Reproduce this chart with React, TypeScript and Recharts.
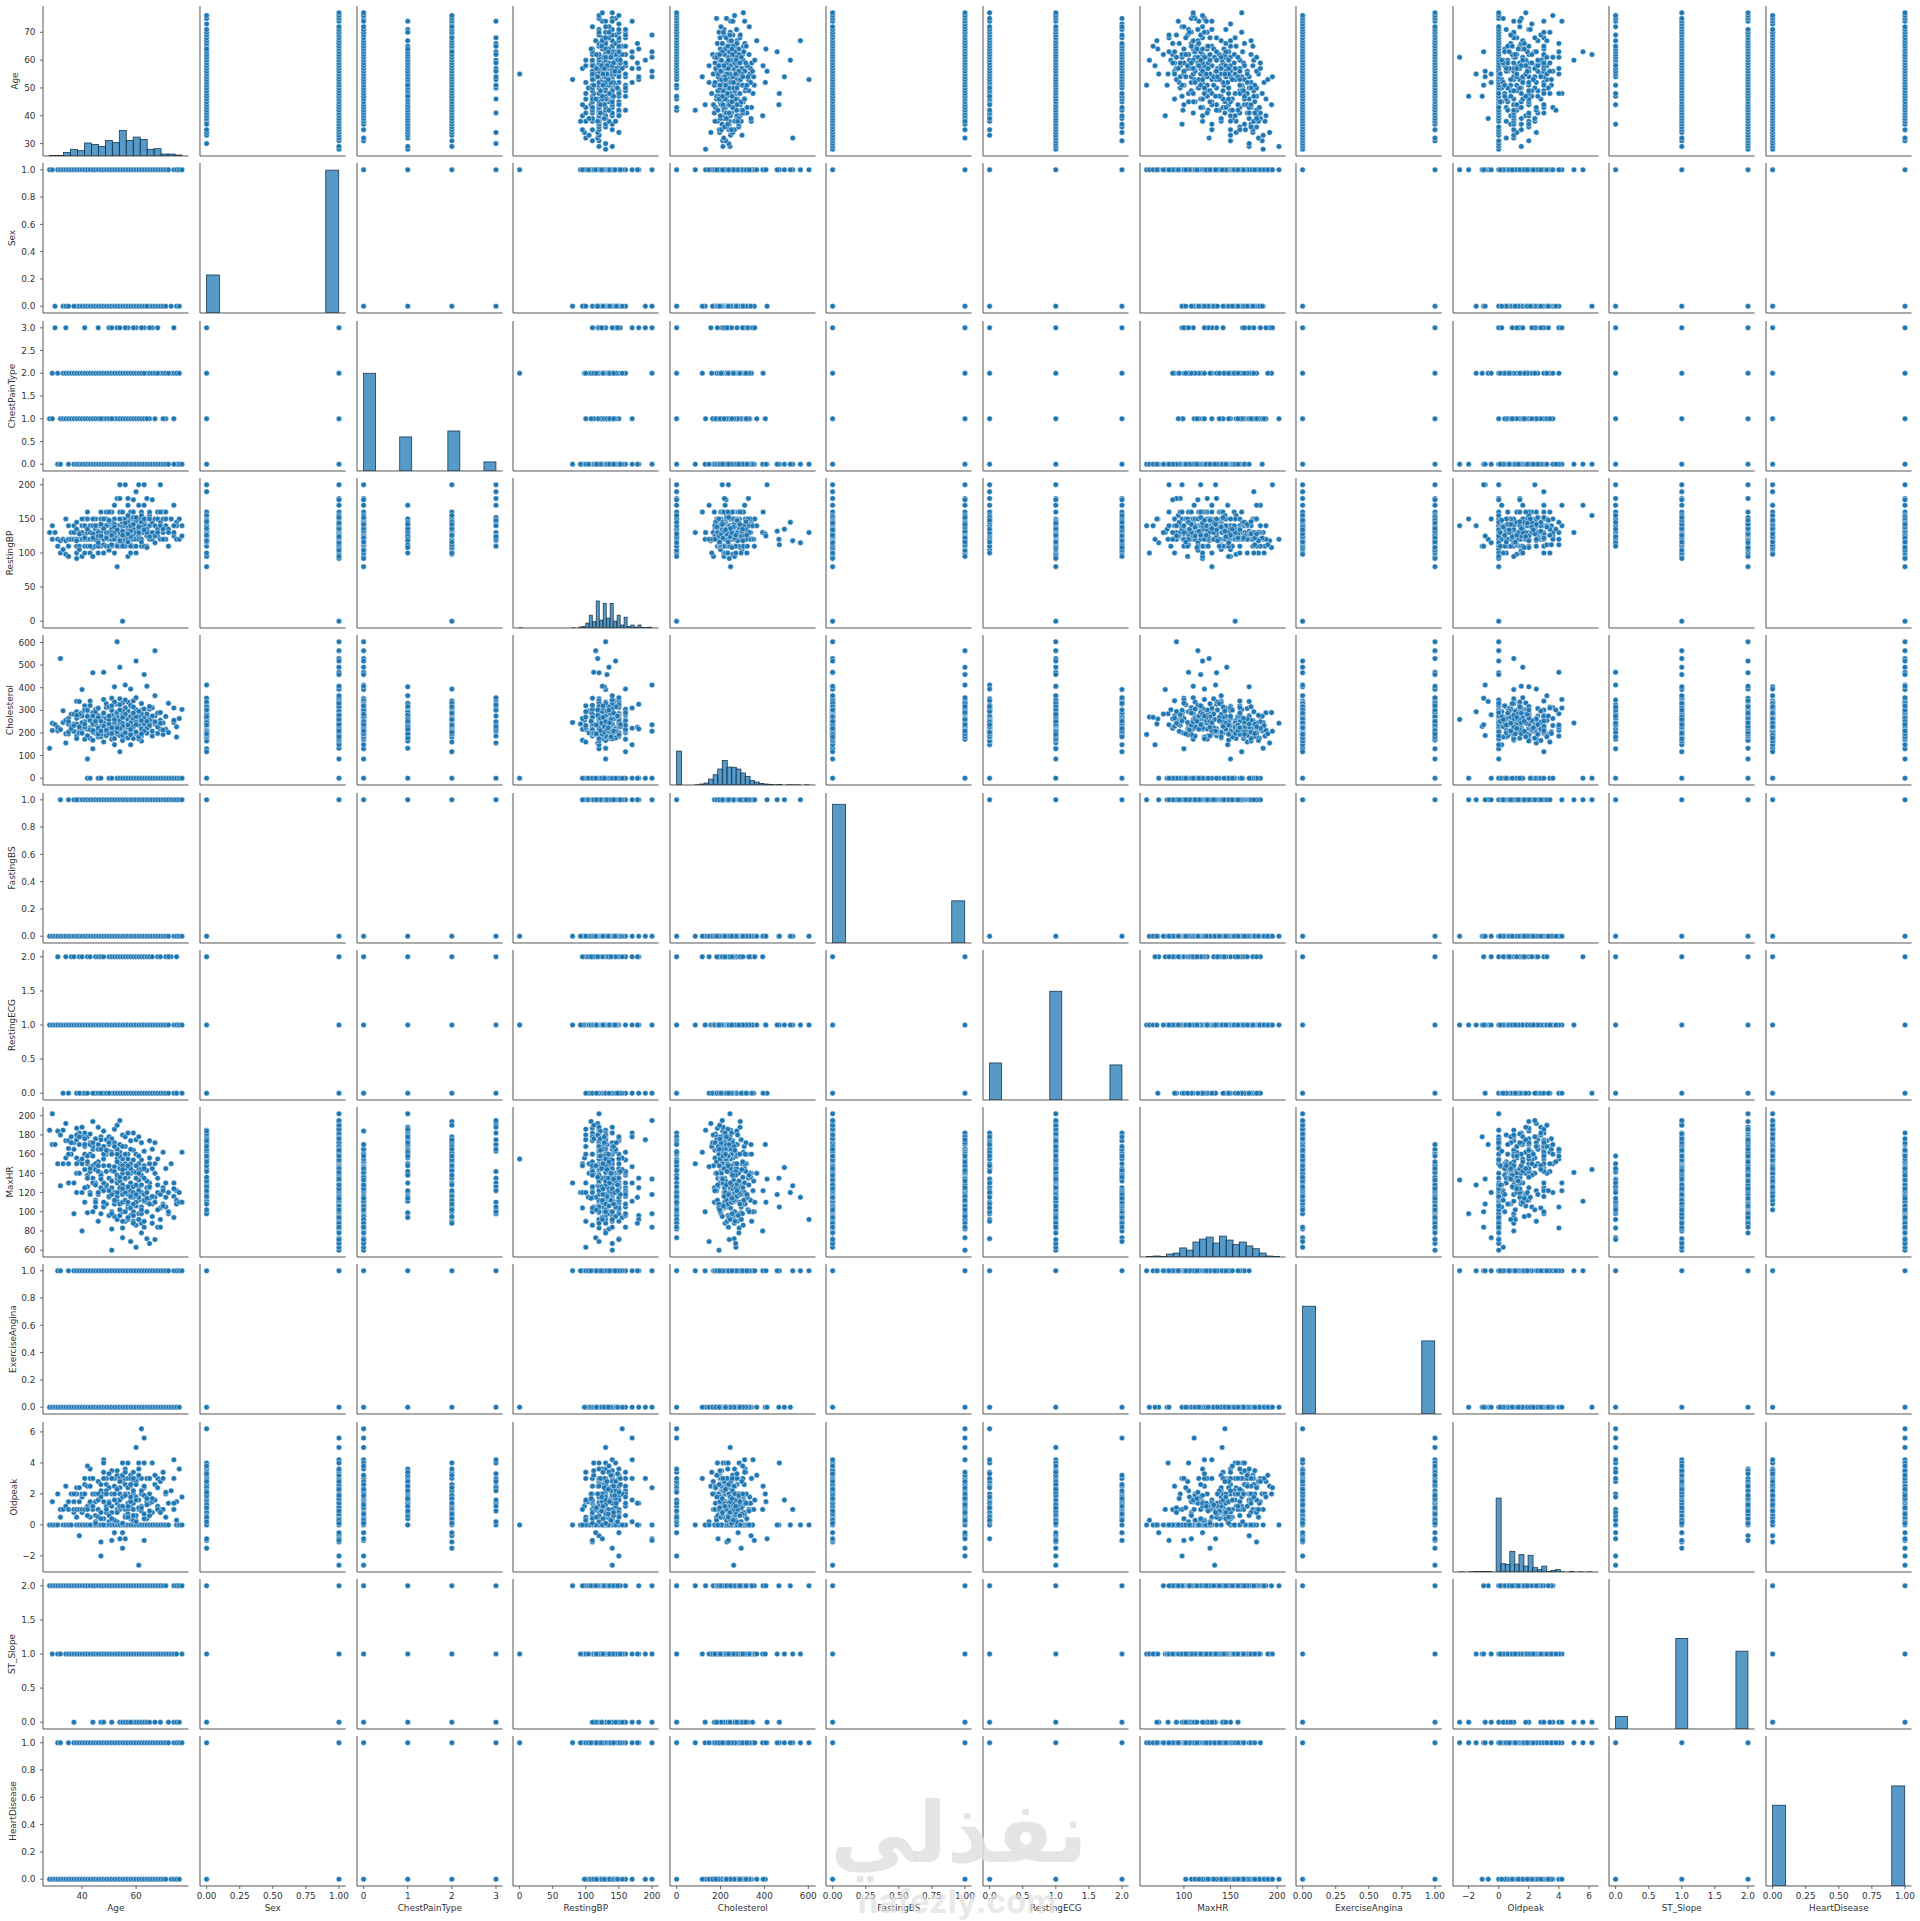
import React from "react";
import { ScatterChart, BarChart, Scatter, Bar, XAxis, YAxis } from "recharts";

// ---- values (estimated sample of the patients) ----
const age = [
28,29,29,30,31,31,32,32,33,33,34,34,34,35,35,35,35,36,36,37,
37,37,38,38,38,38,38,39,39,39,39,40,40,40,40,41,41,41,41,41,
42,42,42,42,42,43,43,43,43,44,44,44,44,44,45,45,45,45,45,46,
46,46,46,46,47,47,47,47,48,48,48,48,48,49,49,49,49,49,50,50,
50,50,50,51,51,51,51,51,51,52,52,52,52,52,52,53,53,53,53,53,
53,53,54,54,54,54,54,54,54,54,54,55,55,55,55,55,55,55,55,56,
56,56,56,56,56,56,57,57,57,57,57,57,57,58,58,58,58,58,58,58,
58,59,59,59,59,59,59,59,59,60,60,60,60,60,60,60,61,61,61,61,
61,61,61,62,62,62,62,62,62,62,63,63,63,63,63,64,64,64,64,64,
65,65,65,65,65,66,66,66,66,67,67,67,67,68,68,68,68,69,69,69,
69,70,70,70,71,71,71,72,72,73,74,74,74,75,75,75,76,76,77,77,
35,36,37,38,39,40,40,41,41,42,42,43,43,43,44,44,45,45,46,46,
46,47,47,48,48,49,49,50,50,50,51,51,51,52,52,52,53,53,53,54,
54,54,54,55,55,55,55,56,56,56,56,57,57,57,57,57,58,58,58,58,
58,59,59,59,59,60,60,60,61,61,61,61,62,62,62,62,63,63,63,64,
64,64,65,65,65,66,66,67,67,68,68,69,69,70,70,71,72,74,43,47,
38,41,44,48,52,54,56,58,59,60,62,63,51,55,57,53,49,61,50,45,
39,42,46,52,56,58,60,65,55,54,48,44,57,59,62,64,53,51,50,47];
const sex = [
1,1,1,0,1,1,1,1,0,1,1,1,0,1,1,1,0,1,1,1,
1,1,1,1,0,1,1,1,0,1,1,1,0,1,1,1,0,1,1,1,
1,0,1,1,1,0,1,1,1,1,0,1,1,1,0,1,1,0,1,1,
1,0,1,1,1,1,0,1,0,1,1,1,1,0,1,1,1,0,1,1,
1,1,0,1,1,1,1,0,1,1,1,1,0,1,1,1,1,0,1,1,
1,1,1,0,1,1,1,0,1,1,0,1,1,1,0,1,1,1,0,1,
0,1,1,1,0,1,1,1,1,0,1,1,0,1,1,1,0,1,1,1,
1,1,0,1,1,1,1,0,1,1,0,1,1,1,0,1,1,1,0,1,
0,1,1,1,0,1,1,1,0,1,0,1,1,1,0,1,1,1,1,1,
1,0,1,1,1,0,1,1,1,1,0,1,1,1,0,1,1,1,0,1,
1,0,1,1,0,1,1,1,1,0,1,1,1,1,0,1,0,1,1,1,
1,1,0,1,1,1,0,1,1,1,1,0,1,1,1,1,0,1,1,1,
1,0,1,1,1,1,0,1,1,1,0,1,1,1,1,0,1,1,1,0,
1,1,1,0,1,1,1,0,1,1,1,1,0,1,1,1,0,1,1,1,
1,1,0,1,1,1,1,0,1,1,1,0,1,1,1,1,0,1,1,1,
0,1,1,1,1,0,1,1,1,1,0,1,1,1,1,0,1,1,1,1,
1,1,0,1,1,1,0,1,1,0,1,1,1,1,0,1,1,1,0,1,
1,0,1,1,1,0,1,1,1,0,1,1,1,1,0,1,1,1,0,1];
const chestPain = [
1,1,2,3,0,2,1,0,1,2,3,1,2,0,1,2,0,2,1,2,
1,0,1,0,2,1,0,2,1,0,0,1,2,0,0,3,0,1,0,2,
1,2,0,0,0,1,0,2,0,2,0,1,0,0,1,0,2,0,0,3,
0,1,2,0,2,0,0,0,1,2,0,0,0,1,2,0,0,1,3,0,
2,0,1,0,0,0,2,0,0,1,0,2,0,1,0,2,0,0,1,3,
0,0,3,1,0,0,0,2,0,0,2,2,0,1,2,0,0,1,0,2,
0,0,1,0,1,2,0,0,3,1,0,0,2,0,2,0,1,0,0,2,
0,1,1,2,0,0,0,2,0,0,3,0,0,2,1,0,0,1,2,0,
0,0,2,0,1,0,2,0,0,0,3,0,0,0,1,0,0,2,0,0,
0,1,2,0,0,3,2,0,0,0,1,2,0,0,0,3,0,0,2,0,
0,2,0,0,1,0,2,0,0,2,1,3,2,0,0,2,2,0,0,0,
0,2,0,1,0,1,2,0,0,2,0,1,0,0,1,0,2,0,1,0,
0,1,2,0,2,1,0,2,0,0,2,0,3,1,0,0,1,2,0,1,
0,3,0,1,2,0,2,1,0,0,3,2,0,1,0,2,0,0,0,1,
0,2,1,0,0,2,3,1,0,0,2,0,3,1,0,0,2,0,0,1,
0,2,0,1,0,0,2,1,0,0,2,0,0,1,0,0,2,0,0,2,
1,1,2,0,1,0,2,0,3,0,0,2,1,0,2,0,1,0,2,0,
1,0,0,2,0,1,0,3,0,0,2,0,0,2,0,1,0,0,3,0];
const restingBP = [
130,120,140,130,120,110,100,118,120,105,118,150,98,120,140,110,95,130,120,140,
130,120,110,145,100,135,92,120,130,110,105,140,120,95,130,110,120,125,150,100,
120,110,130,160,150,120,100,140,130,108,120,140,120,95,150,110,130,135,128,120,
100,140,132,120,110,160,130,150,122,100,138,140,112,124,160,130,150,110,120,140,
145,104,130,140,120,160,125,110,135,100,170,150,120,128,140,112,125,80,130,180,
140,130,200,132,135,110,125,140,120,180,160,0,120,130,140,115,145,150,128,125,
200,130,120,140,150,110,134,95,170,124,130,180,140,120,150,100,136,126,112,160,
130,140,125,150,110,178,120,160,135,100,190,130,145,120,150,110,140,170,125,120,
200,134,150,130,120,160,140,110,155,130,145,132,170,200,130,150,125,140,180,110,
140,120,155,160,130,145,120,178,125,150,140,130,115,160,150,125,135,145,200,120,
140,160,130,150,120,140,160,110,135,150,125,170,130,120,145,140,150,120,125,140,
120,130,140,120,110,130,150,120,140,130,120,140,110,130,120,150,140,120,130,110,
125,130,140,120,150,130,140,120,110,160,130,145,140,120,130,150,140,110,135,128,
120,150,130,140,110,160,120,130,150,125,140,130,120,145,130,155,120,140,110,130,
150,120,135,140,160,130,150,120,140,125,130,150,145,120,160,130,140,110,150,135,
130,140,150,120,160,130,145,140,125,150,130,160,140,120,135,150,130,140,120,125,
118,122,128,136,142,120,126,124,152,148,138,134,112,132,116,110,122,138,146,130,
128,135,115,138,144,132,152,124,126,118,136,122,128,142,116,108,134,126,148,142];
const cholesterol = [
132,243,211,237,210,224,215,529,246,298,156,196,256,195,238,204,264,230,283,240,
283,207,186,340,294,175,240,339,273,215,200,289,275,216,392,250,172,308,224,320,
295,216,85,0,270,177,223,341,265,290,130,235,466,168,237,264,198,304,258,212,
0,277,182,310,229,204,255,0,274,160,245,348,468,226,201,188,313,265,0,234,
219,0,243,193,305,172,266,354,0,233,148,280,213,404,260,196,0,246,222,327,
241,603,208,273,491,0,189,228,351,0,117,0,285,167,294,0,219,333,264,205,
412,236,0,276,184,309,248,0,221,193,337,0,267,148,255,0,318,230,203,394,
258,0,175,286,0,225,342,209,0,270,0,244,518,197,0,303,260,0,233,186,
0,279,0,221,164,300,0,246,0,284,212,458,0,236,0,262,407,0,218,0,
269,0,228,305,0,186,252,0,311,240,0,275,564,0,198,0,288,217,0,256,
0,0,244,193,0,273,216,0,202,0,246,310,0,227,0,182,264,0,304,0,
250,219,233,265,282,199,245,226,302,273,188,255,214,321,241,276,207,294,222,268,
309,183,252,231,286,212,329,240,197,260,278,223,300,175,248,337,205,269,291,236,
217,325,255,190,242,284,230,312,201,268,346,225,259,178,297,238,274,211,322,249,
192,263,315,228,281,204,356,247,174,295,235,271,218,330,253,187,306,241,266,221,
284,199,258,317,234,275,208,365,249,226,0,290,243,0,213,0,331,256,0,194,
278,239,203,288,262,220,310,244,229,272,255,208,198,297,235,0,265,183,316,251,
227,301,194,259,283,216,237,0,269,302,245,211,0,288,196,252,223,320,275,209];
const fastingBS = [
0,0,0,0,0,0,1,0,0,0,0,0,0,1,0,0,0,0,0,0,
0,1,0,0,0,0,0,1,0,0,0,0,0,1,0,0,1,0,0,0,
0,0,0,1,0,0,0,0,1,0,0,1,0,0,0,0,1,0,0,0,
1,0,0,0,0,1,0,1,0,0,0,1,0,0,0,1,0,0,1,0,
0,1,0,1,0,0,1,0,1,0,0,0,1,0,0,0,1,0,0,1,
0,0,0,0,1,1,0,0,0,1,0,0,0,0,1,1,0,0,1,0,
1,0,1,0,0,0,1,1,0,0,0,1,0,0,1,0,0,0,1,0,
0,1,0,0,1,1,0,0,1,0,0,1,0,0,1,0,0,1,0,0,
1,0,1,0,0,1,0,0,1,0,0,1,1,0,1,0,0,1,0,1,
0,1,0,1,0,0,0,1,0,0,1,0,1,1,0,1,0,0,1,0,
1,1,0,0,1,0,0,1,0,1,0,0,1,0,1,0,0,1,0,1,
0,0,0,1,0,0,0,0,1,0,0,0,1,0,0,0,0,1,0,0,
0,1,0,0,0,0,1,0,0,0,0,0,1,0,0,1,0,0,0,0,
1,0,0,0,0,1,0,0,0,0,1,0,0,0,1,0,0,0,1,0,
0,1,0,0,0,0,1,0,0,1,0,0,0,1,0,0,1,0,0,0,
1,0,0,1,0,0,1,0,0,1,0,1,0,0,1,0,0,1,0,0,
0,0,1,0,0,0,0,1,0,0,1,0,0,0,0,1,0,0,0,0,
0,0,0,1,0,0,1,0,0,0,0,1,0,0,1,0,0,0,0,1];
const restingECG = [
1,1,1,1,1,2,1,1,1,0,1,2,1,1,1,0,1,1,2,1,
2,1,1,1,0,1,1,1,2,1,1,1,0,1,2,1,1,0,1,1,
1,2,1,1,0,1,1,2,1,1,1,1,1,1,1,2,1,1,0,1,
2,1,1,0,1,1,2,1,1,0,1,1,1,1,1,0,1,1,1,2,
1,2,1,1,1,0,1,2,1,1,0,1,1,1,2,1,0,1,1,2,
1,1,1,1,1,2,1,1,0,1,2,1,1,0,1,2,1,1,1,0,
0,1,2,1,1,0,1,2,1,1,1,0,1,2,1,0,1,1,2,0,
1,0,1,2,1,1,0,1,2,1,0,1,1,2,0,1,1,0,1,2,
0,1,2,1,0,1,1,2,0,1,0,1,2,1,1,0,1,2,1,0,
1,0,2,1,1,0,1,2,0,1,0,1,1,1,0,1,2,0,1,1,
2,0,1,1,0,2,1,0,1,2,1,0,1,1,2,0,1,1,0,1,
1,1,1,0,1,1,2,1,1,0,1,1,2,1,0,1,1,1,2,1,
1,0,1,1,2,1,1,0,1,1,1,2,1,1,0,1,1,2,1,1,
0,1,1,2,1,1,0,1,1,2,1,1,0,1,1,2,1,1,0,1,
2,1,1,0,1,1,2,1,1,0,1,2,1,1,0,1,1,2,1,0,
1,1,2,0,1,1,2,1,0,1,1,2,1,0,1,1,2,1,1,0,
1,1,0,1,1,2,1,1,0,1,1,2,1,1,0,1,1,2,1,1,
0,1,1,2,1,1,0,1,1,2,1,1,0,1,1,2,1,1,0,1];
const maxHR = [
185,202,170,170,184,150,180,127,185,150,192,174,156,166,130,174,150,178,160,172,
98,130,187,140,175,156,120,170,182,152,140,188,150,120,80,182,110,168,144,160,
99,178,150,138,126,181,120,160,142,194,100,165,135,148,176,144,130,112,110,188,
90,170,152,118,178,140,125,98,184,168,148,122,105,175,142,126,108,160,163,96,
135,115,178,60,143,125,162,100,82,186,147,120,108,170,95,190,155,130,111,135,
116,92,195,170,146,122,108,150,132,96,162,155,83,180,128,73,110,140,100,168,
134,112,150,90,178,145,124,104,182,160,136,92,118,69,174,130,150,105,140,122,
96,182,164,142,126,115,90,154,100,63,175,141,120,106,160,86,133,178,150,112,
98,125,145,88,172,120,154,104,144,78,163,118,111,84,148,72,110,143,125,100,
67,174,156,130,114,165,145,88,108,71,172,150,115,84,155,135,120,104,118,92,
84,162,125,108,130,145,105,120,98,150,94,130,116,112,108,122,120,110,162,110,
160,172,165,150,140,178,155,170,125,158,135,172,145,118,168,130,150,105,165,142,
120,175,138,155,110,162,128,170,148,116,160,132,98,172,142,112,165,138,120,158,
145,102,125,168,148,118,90,160,135,112,100,155,126,140,108,94,150,130,115,165,
104,88,142,120,96,135,110,148,122,92,158,115,105,138,98,128,112,145,90,120,
132,100,125,150,108,116,95,140,110,128,102,118,92,122,106,115,100,124,170,165,
180,176,172,160,168,158,150,145,142,128,138,135,176,144,148,152,164,140,172,128,
178,152,148,112,120,116,118,126,124,136,130,158,110,108,102,114,160,118,122,134];
const exerciseAngina = [
0,0,0,0,0,1,0,1,0,0,0,0,0,0,1,0,1,0,0,0,
1,1,0,1,0,0,1,0,0,0,1,0,0,1,1,0,1,0,1,0,
1,0,1,0,1,0,1,0,0,0,1,0,0,1,0,1,0,1,1,0,
1,0,0,1,0,1,1,0,0,0,1,1,1,0,0,1,1,0,0,1,
1,1,0,1,0,1,0,1,0,0,0,1,1,0,1,0,0,1,1,0,
1,1,0,0,0,1,1,0,1,1,0,0,1,0,1,0,1,0,1,0,
0,1,0,1,0,0,1,1,0,0,1,1,0,0,0,1,0,1,0,1,
1,0,0,1,1,1,1,0,1,0,0,1,0,1,0,1,1,0,0,1,
1,1,0,1,0,1,0,1,0,1,0,1,1,0,0,1,1,0,1,1,
1,0,0,1,1,0,0,1,0,1,0,0,1,1,0,1,1,0,1,1,
1,0,1,1,0,0,1,0,1,0,1,0,1,1,0,0,0,1,1,1,
0,0,1,0,1,0,0,0,1,0,1,0,1,0,0,1,0,1,0,0,
1,0,0,0,1,0,1,0,0,1,0,1,1,0,0,1,0,0,1,0,
0,1,1,0,0,1,1,0,0,1,1,0,1,0,1,1,0,0,1,0,
1,1,0,1,1,0,1,0,1,1,0,0,1,0,1,1,0,0,1,1,
0,1,1,0,1,0,1,0,1,1,0,1,1,0,1,0,1,0,1,1,
0,0,0,1,0,0,1,0,1,1,0,1,0,1,0,0,0,1,0,1,
0,1,0,1,1,0,1,0,1,0,0,1,1,0,1,1,0,1,0,0];
const oldpeak = [
0,0,1.5,0,2,0,0.5,1,1,0,2.5,0,1.2,0,1.5,1,1,0,2,0.8,
1,1.5,2,1,0,2.4,0,-0.7,1.5,1,0,1.8,0.8,0,1,3,0,2.6,1,0,
0,2.5,0,1.2,0,1.4,1.5,3,0.5,2,0,3,0,1,2,0.6,0,1.5,0,2.8,
0,1.6,0.5,0,-1.1,2.2,0,-2,2,3.4,0.4,4.2,4,2.6,1.2,0,0.8,3,0.2,0,
0,1.5,2.4,0,0.8,2,1.2,-1,0,3,0.2,-0.5,0,2,0,3.2,1.6,0,1,1.4,
0.2,0,2.4,0,1.6,0,-0.9,2,1,0,3,0,4,2.8,-1.5,-0.5,0,1.8,0,3,
-0.9,0,2.6,0,1,0.6,0,0,3,2,1.4,0,1,0,3.2,1.6,0.4,0,1.2,2.5,
0,2.8,1,2,0,1.4,0,2.2,0,0.3,3,5,0,1.8,0.6,0,-2.6,1.6,3.6,0,
0,1,3,0,2,1.2,0,0,6.2,0,4,0,5.6,-1,2.4,0,1.5,3,0,0.4,
0,3,2,1.4,0,4,0.8,0,1.5,0,1.6,2.6,0,0,3,1.2,0,2.8,0,1,
0,3.4,1,0,0.5,2,0,1.4,0,2.2,1,4.2,3,0,1.5,0.3,3.6,0,1.8,0,
1,0,2,0.5,1.5,0.8,2,0,3,1,0.6,2.5,1.4,0,1.2,3,0,0.2,2,1.6,
0,1.8,0.4,3,0,2.2,1,0.6,1.5,0,3,1.2,0,2.5,1.6,0,3.5,0.8,0,2,
2.8,0,1,3.2,0.1,1.8,0,3.6,0.5,2,0,4,1.2,2.4,0.7,0,3,1.5,0,2.6,
0,1,3.4,0.3,2,0,1.6,2.8,0,1.1,4,0,2.2,0.9,3,0,1.9,0.4,2.5,0,
1.3,3,0,2,0.6,0,1.7,3.2,0,1,2.4,0,0.8,3,0,2.1,0,1.4,3.6,2.6,
1,2,3,1.5,2.5,1.2,3.4,1.8,3,0.2,2.2,0.7,3.5,2.8,0.5,1.6,2,3.2,1.4,0.1,
2.4,3.8,1,0.3,1.9,0,2.6,0.9,1.2,2,1.5,3,0,0.6,1.1,1.7,2.3,0.4,3.3,0.8];
const stSlope = [
2,2,1,2,2,1,2,1,2,2,1,2,1,2,1,2,1,2,1,2,
0,1,2,2,1,2,1,2,1,1,2,2,1,2,1,1,2,1,2,1,
2,1,2,1,2,1,1,2,2,2,0,1,2,1,2,2,1,2,1,2,
2,1,1,2,1,2,1,0,2,1,1,1,0,2,1,2,2,1,2,1,
2,1,2,1,2,0,1,2,1,2,1,1,2,1,2,1,2,2,1,1,
1,2,1,2,1,1,0,2,1,2,1,1,0,2,1,0,2,1,1,2,
0,2,1,1,2,1,1,2,1,2,1,0,2,1,1,2,1,2,1,2,
2,1,2,1,0,1,2,1,2,1,1,0,2,1,1,2,0,1,2,1,
2,1,1,2,1,1,2,0,0,2,1,1,0,1,2,1,2,1,2,0,
1,2,1,2,0,1,2,1,2,0,1,2,1,2,1,2,1,0,1,2,
2,1,1,2,1,2,1,1,0,1,2,0,1,2,1,0,0,2,2,1,
2,2,1,2,1,2,1,2,1,2,1,2,1,2,2,1,2,1,2,1,
2,1,2,1,1,2,1,2,2,1,2,1,0,2,1,1,2,1,2,1,
1,0,2,1,2,1,1,2,1,2,0,1,2,1,2,1,0,2,1,2,
1,2,0,1,2,1,1,2,1,2,0,1,2,1,1,2,1,0,2,1,
2,1,1,2,0,1,2,1,2,1,1,2,0,1,2,1,1,2,1,2,
2,1,2,1,1,2,1,0,2,1,1,2,1,2,1,2,1,1,2,1,
2,1,2,1,2,1,1,2,1,1,2,1,1,2,1,2,1,1,2,1];
const heartDisease = [
0,0,0,0,0,1,0,1,0,0,0,0,0,0,1,0,1,0,0,0,
1,1,0,1,0,0,1,0,0,1,1,0,0,1,1,0,1,0,1,0,
1,0,1,0,1,0,1,0,0,0,1,0,1,1,0,0,1,1,1,0,
1,0,0,1,0,1,1,1,0,0,0,1,1,0,0,1,1,0,0,1,
1,1,0,1,0,1,0,1,1,0,0,1,1,0,1,0,0,1,1,1,
1,1,0,0,1,1,1,0,1,1,0,1,1,0,1,1,1,0,1,0,
1,1,1,1,0,0,1,1,0,0,1,1,0,1,0,1,0,1,1,0,
1,1,0,1,1,1,1,0,1,1,0,1,1,1,0,1,1,0,0,1,
1,1,0,1,0,1,0,1,1,1,0,1,1,1,0,1,1,0,1,1,
1,0,0,1,1,0,1,1,1,1,0,1,1,1,0,0,1,1,0,1,
1,0,1,1,0,0,1,1,1,0,1,0,1,1,0,1,0,1,1,1,
0,0,1,0,1,0,1,0,1,0,1,0,1,1,0,1,0,1,0,1,
1,0,1,0,1,0,1,0,1,1,0,1,1,0,1,1,0,1,1,0,
1,1,1,0,1,1,1,0,1,1,1,0,1,0,1,1,0,1,1,0,
1,1,0,1,1,0,1,1,1,1,0,1,1,0,1,1,0,1,1,1,
0,1,1,0,1,1,1,0,1,1,0,1,1,0,1,1,1,0,1,1,
0,0,1,1,0,1,1,0,1,1,0,1,1,1,0,1,1,1,0,1,
0,1,1,1,1,0,1,0,1,1,0,1,1,0,1,1,1,1,0,1];

// histogram bin counts (equal-width bins spanning each variable's range)
const ageBins = [2,3,18,34,27,66,59,49,79,69,130,79,96,84,34,37,10,10,5];
const sexBins = [193,0,0,0,0,0,0,0,0,725];
const chestPainBins = [496,0,0,173,0,0,0,203,0,0,46];
const restingBPBins = [1,0,0,0,0,0,0,0,0,0,0,0,0,0,0,1,0,5,8,25,65,32,137,40,125,50,125,35,65,15,55,8,15,5,15,2,3,4];
const cholesterolBins = [172,0,0,0,1,5,10,30,52,81,125,91,90,81,61,44,22,15,8,5,3,1,3,0,1,1,1,0,1];
const fastingBSBins = [704,0,0,0,0,0,0,0,0,214];
const restingECGBins = [188,0,0,0,0,552,0,0,0,0,178];
const maxHRBins = [2,5,3,15,20,46,35,76,91,101,71,106,86,63,76,56,42,20,5,3];
const exerciseAnginaBins = [547,0,0,0,0,0,0,0,0,371];
const oldpeakBins = [1,0,1,2,2,2,2,0,375,42,39,105,40,88,30,85,22,12,30,3,7,12,1,0,2,0,1,0,1];
const stSlopeBins = [63,0,0,0,0,460,0,0,0,0,395];
const heartDiseaseBins = [410,0,0,0,0,0,0,0,0,508];
const histDomain = [0, 761.25];

const fmtInt = (v: number) => String(v).replace("-", "\u2212");
const fmt1 = (v: number) => v.toFixed(1);
const fmt2 = (v: number) => v.toFixed(2);
const unitX = [0, 0.25, 0.5, 0.75, 1];
const unitY = [0, 0.2, 0.4, 0.6, 0.8, 1];
const twoT = [0, 0.5, 1, 1.5, 2];

const vars = [
  { name: "Age", v: age, bins: ageBins, dom: [25.55, 79.45], xT: [40, 60], yT: [30, 40, 50, 60, 70], xF: fmtInt, yF: fmtInt, lx: 15.5 },
  { name: "Sex", v: sex, bins: sexBins, dom: [-0.05, 1.05], xT: unitX, yT: unitY, xF: fmt2, yF: fmt1, lx: 13 },
  { name: "ChestPainType", v: chestPain, bins: chestPainBins, dom: [-0.15, 3.15], xT: [0, 1, 2, 3], yT: [0, 0.5, 1, 1.5, 2, 2.5, 3], xF: fmtInt, yF: fmt1, lx: 13 },
  { name: "RestingBP", v: restingBP, bins: restingBPBins, dom: [-10, 210], xT: [0, 50, 100, 150, 200], yT: [0, 50, 100, 150, 200], xF: fmtInt, yF: fmtInt, lx: 11 },
  { name: "Cholesterol", v: cholesterol, bins: cholesterolBins, dom: [-30.15, 633.15], xT: [0, 200, 400, 600], yT: [0, 100, 200, 300, 400, 500, 600], xF: fmtInt, yF: fmtInt, lx: 11 },
  { name: "FastingBS", v: fastingBS, bins: fastingBSBins, dom: [-0.05, 1.05], xT: unitX, yT: unitY, xF: fmt2, yF: fmt1, lx: 13 },
  { name: "RestingECG", v: restingECG, bins: restingECGBins, dom: [-0.1, 2.1], xT: twoT, yT: twoT, xF: fmt1, yF: fmt1, lx: 13 },
  { name: "MaxHR", v: maxHR, bins: maxHRBins, dom: [52.9, 209.1], xT: [100, 150, 200], yT: [60, 80, 100, 120, 140, 160, 180, 200], xF: fmtInt, yF: fmtInt, lx: 11 },
  { name: "ExerciseAngina", v: exerciseAngina, bins: exerciseAnginaBins, dom: [-0.05, 1.05], xT: unitX, yT: unitY, xF: fmt2, yF: fmt1, lx: 13.5 },
  { name: "Oldpeak", v: oldpeak, bins: oldpeakBins, dom: [-3.04, 6.64], xT: [-2, 0, 2, 4, 6], yT: [-2, 0, 2, 4, 6], xF: fmtInt, yF: fmtInt, lx: 15 },
  { name: "ST_Slope", v: stSlope, bins: stSlopeBins, dom: [-0.1, 2.1], xT: twoT, yT: twoT, xF: fmt1, yF: fmt1, lx: 13 },
  { name: "HeartDisease", v: heartDisease, bins: heartDiseaseBins, dom: [-0.05, 1.05], xT: unitX, yT: unitY, xF: fmt2, yF: fmt1, lx: 13.5 },
];

const L0 = 43.3, DX = 156.6, T0 = 6, DY = 157.3, W = 145.6, H = 150;
const YW = 44, XH = 34, MT = 4, MR = 8;
const FONT = "'DejaVu Sans', sans-serif";
const tickStyle = { fontSize: 8.9, fill: "#333", fontFamily: FONT };
const labelStyle = { fontSize: 8.9, fill: "#333", fontFamily: FONT };
const axisLine = { stroke: "#444", strokeWidth: 0.9 };
const tickLine = { stroke: "#444", strokeWidth: 0.8 };

const Dot = (p: any) => <circle cx={p.cx} cy={p.cy} r={2.75} fill="#1f77b4" stroke="#ffffff" strokeWidth={0.45} />;
const HistBar = (p: any) => (
  <rect x={p.x} y={p.y} width={p.width} height={Math.max(p.height, 0)} fill="#1f77b4" fillOpacity={0.75} stroke="#12324a" strokeWidth={0.75} />
);

function Panel({ r, c }: { r: number; c: number }) {
  const xv = vars[c], yv = vars[r];
  const bottom = r === vars.length - 1, left = c === 0;
  const box: React.CSSProperties = { position: "absolute", left: L0 + c * DX - YW, top: T0 + r * DY - MT };
  const width = YW + W + MR, height = MT + H + XH;
  let pts: { x: number; y: number }[] = [];
  if (r !== c) {
    const seen = new Map<string, { x: number; y: number }>();
    xv.v.forEach((x, i) => seen.set(x + "|" + yv.v[i], { x, y: yv.v[i] }));
    pts = Array.from(seen.values());
  }
  const axes = (
    <ScatterChart width={width} height={height} margin={{ top: MT, right: MR, bottom: 0, left: 0 }}>
      <XAxis
        type="number" dataKey="x" domain={xv.dom} ticks={xv.xT} allowDataOverflow interval={0} height={XH}
        tickSize={3} tickMargin={4} axisLine={axisLine} tickLine={tickLine}
        tick={bottom ? tickStyle : false} tickFormatter={xv.xF}
        label={bottom ? { value: xv.name, position: "center", dy: 5.3, style: labelStyle } : undefined}
      />
      <YAxis
        type="number" dataKey="y" domain={yv.dom} ticks={yv.yT} allowDataOverflow interval={0} width={YW}
        tickSize={3} tickMargin={4.5} axisLine={axisLine} tickLine={tickLine}
        tick={left ? tickStyle : false} tickFormatter={yv.yF}
        label={left ? { value: yv.name, angle: -90, position: "center", dx: yv.lx - YW / 2, style: labelStyle } : undefined}
      />
      <Scatter data={pts} isAnimationActive={false} shape={Dot} />
    </ScatterChart>
  );
  if (r !== c) return <div style={box}>{axes}</div>;
  const data = xv.bins.map((count, b) => ({ b, count }));
  const pad = (W * 0.05) / 1.1;
  return (
    <div style={box}>
      <div style={{ position: "absolute", left: 0, top: 0 }}>
        <BarChart width={width} height={height} data={data} barCategoryGap={0} barGap={0}
          margin={{ top: MT, right: MR, bottom: XH, left: YW }}>
          <XAxis type="category" dataKey="b" hide padding={{ left: pad, right: pad }} />
          <YAxis type="number" hide domain={histDomain} allowDataOverflow />
          <Bar dataKey="count" isAnimationActive={false} shape={HistBar} />
        </BarChart>
      </div>
      <div style={{ position: "absolute", left: 0, top: 0 }}>{axes}</div>
    </div>
  );
}

export default function App() {
  return (
    <div style={{ position: "absolute", left: 0, top: 0, width: 1920, height: 1921, background: "#fff", overflow: "hidden" }}>
      {vars.map((_, r) => vars.map((_, c) => <Panel key={r + "-" + c} r={r} c={c} />))}
      <svg width={1920} height={1921} style={{ position: "absolute", left: 0, top: 0, pointerEvents: "none" }}>
        <text x={959} y={1862} textAnchor="middle" fontFamily="'DejaVu Sans'" fontWeight="bold" fontSize={84} fill="#e0e0e0" fillOpacity={0.85} direction="rtl">نفذلي</text>
        <text x={957} y={1913} textAnchor="middle" fontFamily="'Inter','DejaVu Sans'" fontWeight="bold" fontSize={33} fill="#e0e0e0" fillOpacity={0.7}>nafezly.com</text>
      </svg>
    </div>
  );
}
